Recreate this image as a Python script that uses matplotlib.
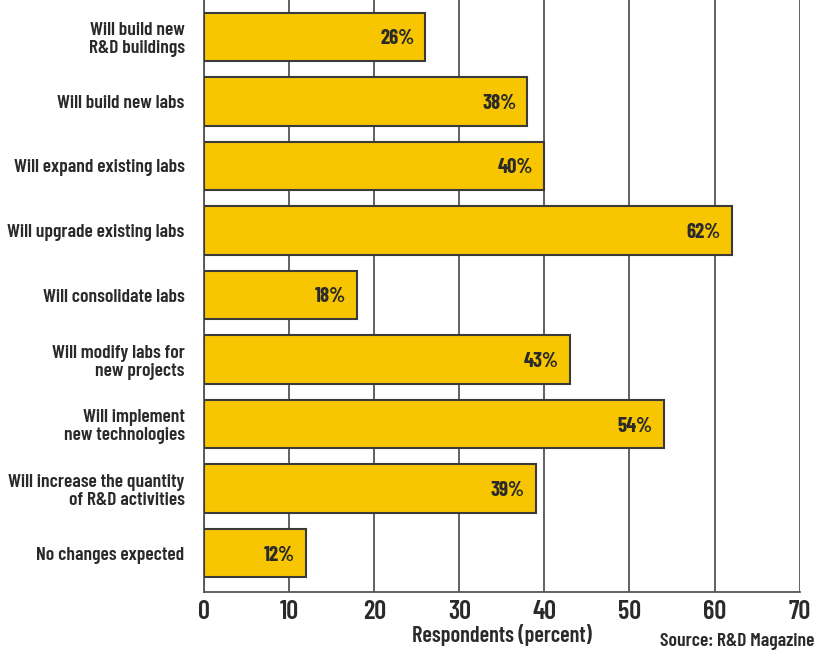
import matplotlib.pyplot as plt

categories = ["Will build new\nR&D buildings", "Will build new labs", "Will expand existing labs",
              "Will upgrade existing labs", "Will consolidate labs", "Will modify labs for\nnew projects",
              "Will implement\nnew technologies", "Will increase the quantity\nof R&D activities",
              "No changes expected"]
values = [26, 38, 40, 62, 18, 43, 54, 39, 12]
xticks = [0, 10, 20, 30, 40, 50, 60, 70]

# condensed font similar to the original, DejaVu as fallback
plt.rcParams['font.family'] = ['Barlow Condensed', 'DejaVu Sans']
plt.rcParams['font.weight'] = 600
plt.rcParams['axes.labelweight'] = 600

fig = plt.figure(figsize=(8.16, 6.57), dpi=100)
ax = fig.add_axes([0.25, 0.099, 0.73, 0.901])

ypos = range(len(values))
ax.barh(ypos, values, height=0.75, color="#F7C600", edgecolor="#3a3a3a", linewidth=1.5, zorder=3)
for y, v in zip(ypos, values):
    ax.text(v - 1.3, y + 0.03, f"{v}%", ha="right", va="center", fontsize=15, fontweight="bold",
            color="#2a2a2a", zorder=4)

ax.set_xlim(0, 70)
ax.set_ylim(8.6, -0.57)
ax.set_xticks(xticks)
ax.set_yticks(list(ypos))
ax.set_yticklabels(categories, fontsize=14, color="#2a2a2a", linespacing=1.1)
ax.tick_params(axis="y", length=0, pad=14)
ax.tick_params(axis="x", length=0, pad=6, labelsize=19, colors="#2a2a2a")
ax.grid(axis="x", color="#555555", linewidth=1.3, zorder=0)
for s in ["top", "right"]:
    ax.spines[s].set_visible(False)
ax.spines["left"].set_color("#555555")
ax.spines["bottom"].set_color("#555555")
ax.spines["left"].set_linewidth(1.3)
ax.spines["bottom"].set_linewidth(1.3)

ax.set_xlabel("Respondents (percent)", fontsize=16, color="#2a2a2a", labelpad=0)
fig.text(0.998, 0.01, "Source: R&D Magazine", ha="right", va="bottom", fontsize=14, color="#2a2a2a")

fig.savefig("out.png", dpi=100)
